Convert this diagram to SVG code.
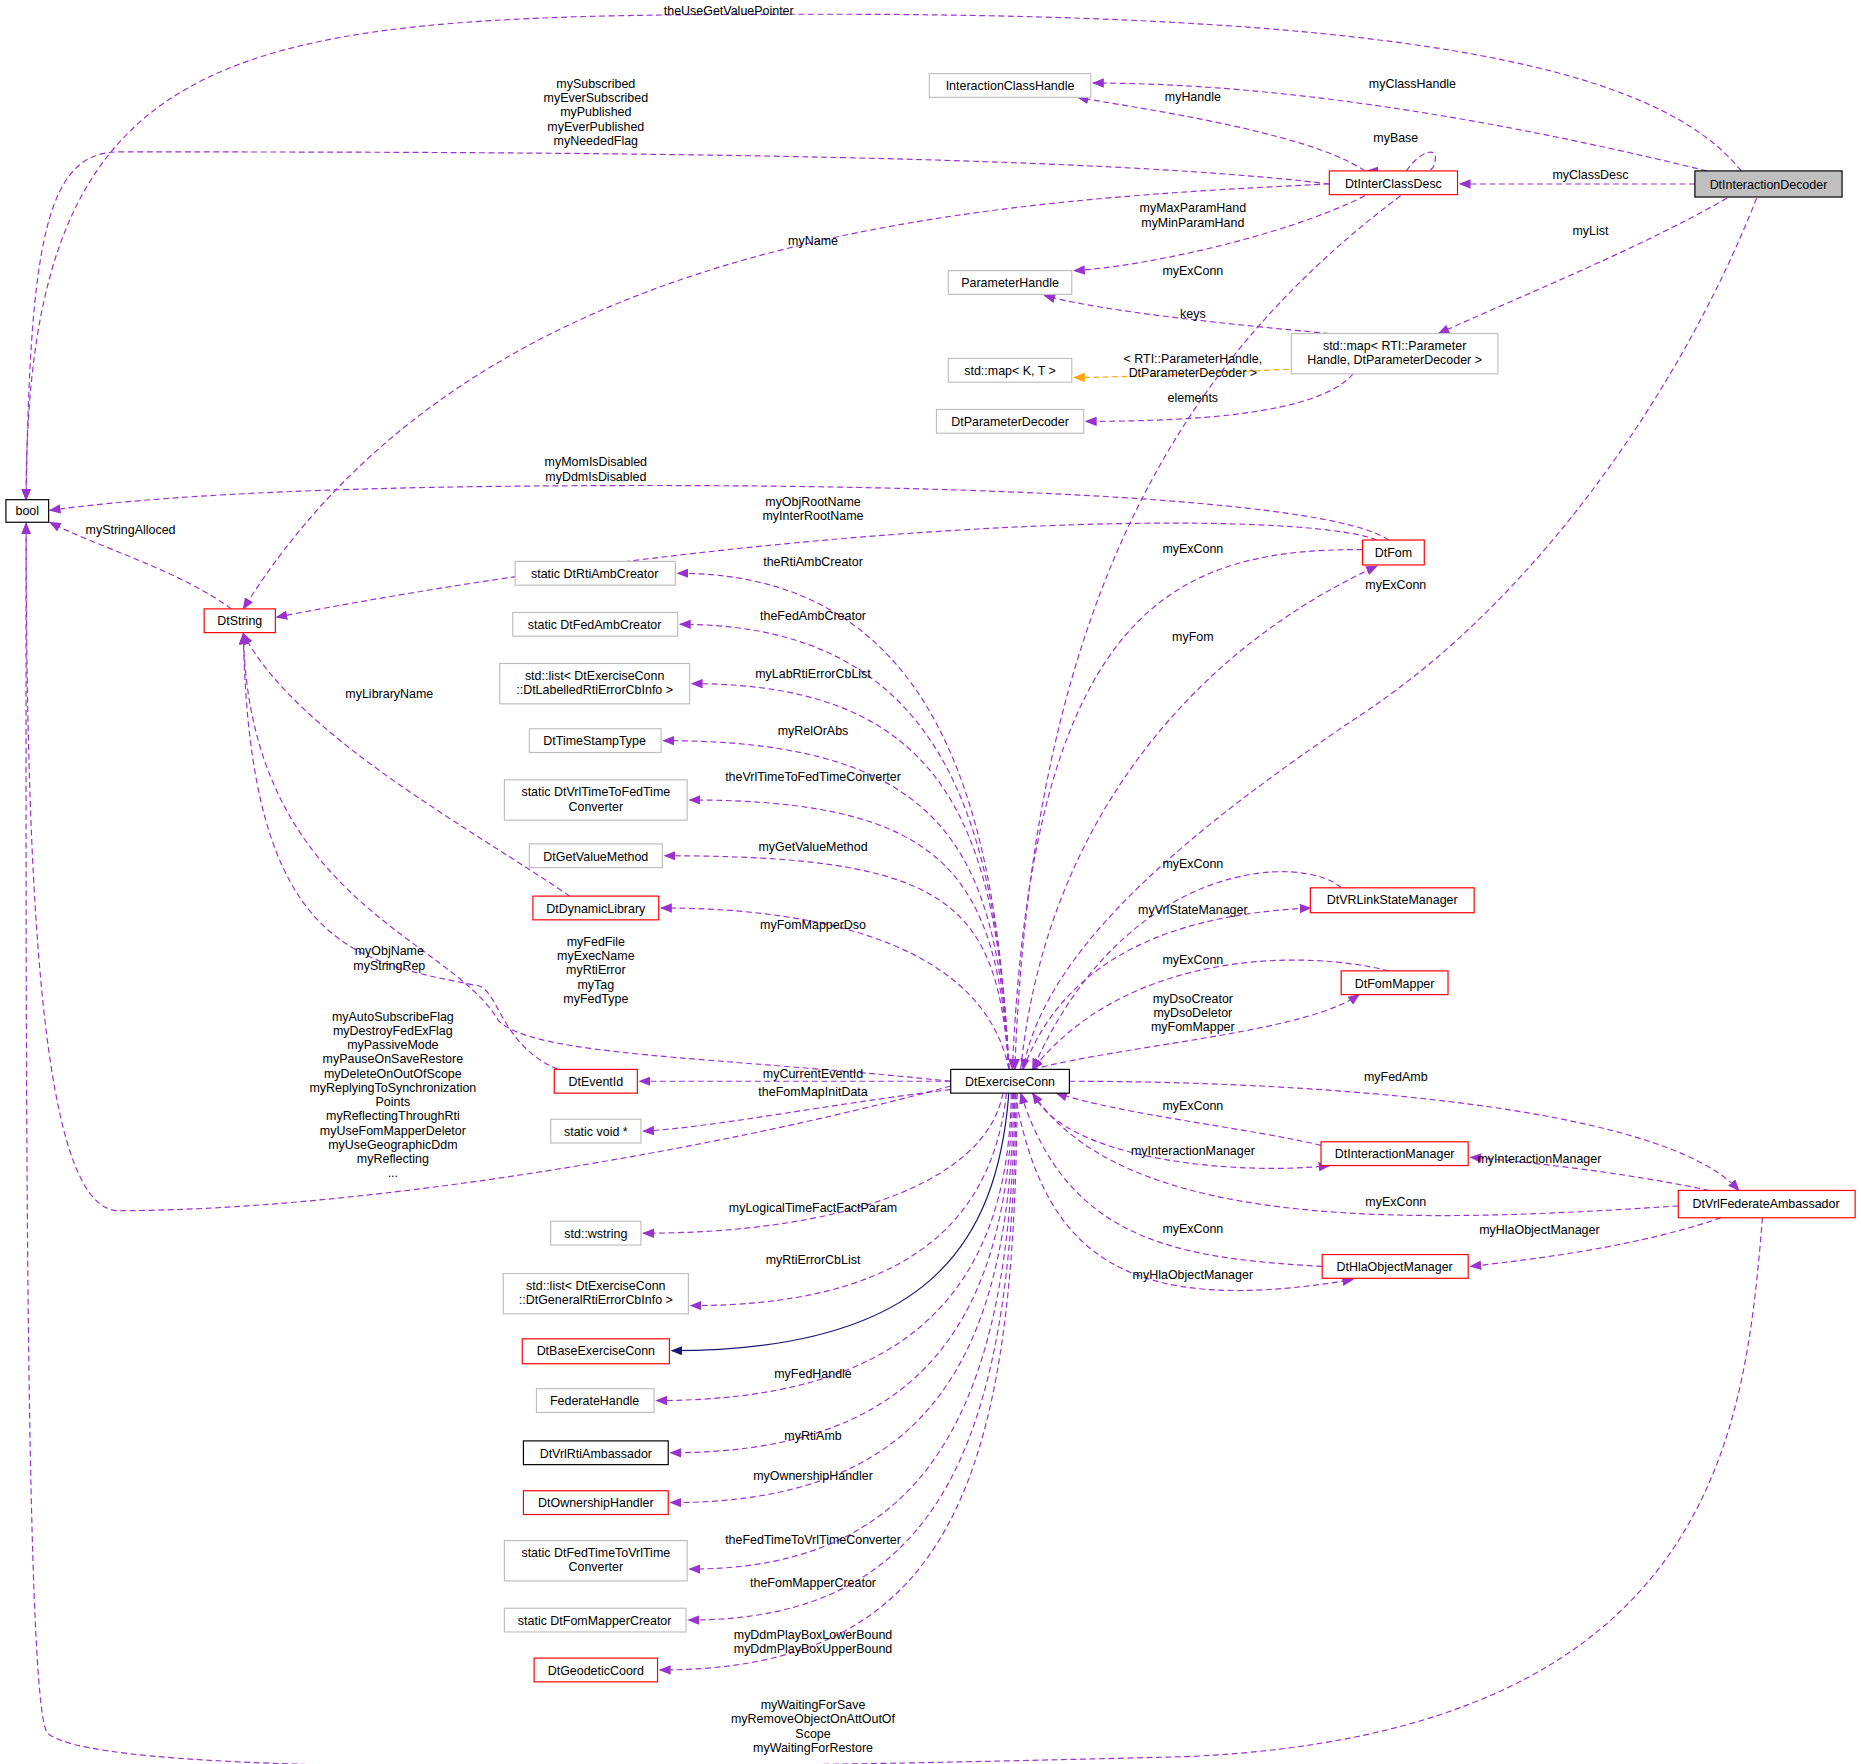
<svg xmlns="http://www.w3.org/2000/svg" width="1861" height="1764" viewBox="0 0 1861 1764">
<style>
text{font-family:"Liberation Sans",Arial,sans-serif;font-size:10.5px;fill:#000}
.n text{text-anchor:middle}
.l{text-anchor:middle}
.g{fill:#fff;stroke:#bfbfbf;stroke-width:1}
.r{fill:#fff;stroke:#ff0000;stroke-width:1}
.b{fill:#fff;stroke:#000;stroke-width:1}
.e path{fill:none;stroke:#9a32cd;stroke-width:1;stroke-dasharray:5,3;marker-end:url(#a)}
.e path.o{stroke:#ffa500;marker-end:url(#ao)}
.e path.i{stroke:#191970;stroke-dasharray:none;marker-end:url(#ai)}
</style>
<defs>
<marker id="a" markerWidth="10" markerHeight="8" refX="9" refY="4" orient="auto" markerUnits="userSpaceOnUse"><path d="M0,0 L10,4 L0,8 Z" fill="#9a32cd"/></marker>
<marker id="ao" markerWidth="10" markerHeight="8" refX="9" refY="4" orient="auto" markerUnits="userSpaceOnUse"><path d="M0,0 L10,4 L0,8 Z" fill="#ffa500"/></marker>
<marker id="ai" markerWidth="10" markerHeight="8" refX="9" refY="4" orient="auto" markerUnits="userSpaceOnUse"><path d="M0,0 L10,4 L0,8 Z" fill="#191970"/></marker>
</defs>
<rect width="1861" height="1764" fill="#fff"/>
<g transform="scale(1.1869)">
<g class="e" id="edges">
<path d="M1467,144 C1400,60 1200,12 700,12 C200,12 22,20 22,421"/>
<path d="M1438,144 C1300,110 1100,70 921,70"/>
<path d="M1428,155 L1230,155"/>
<path d="M1455,167 C1380,210 1280,250 1212,281"/>
<path d="M1480,167 C1420,320 1300,500 1150,600 C1000,700 880,800 862,901"/>
<path d="M1120,155 C900,128 400,128 100,128 C40,128 25,200 22,421"/>
<path d="M1120,155 C800,170 400,200 205,513"/>
<path d="M1150,144 C1100,110 950,90 908,82"/>
<path d="M1185,144 C1195,128 1215,120 1208,140 C1205,146 1195,146 1152,144"/>
<path d="M1150,165 C1080,200 960,225 905,228"/>
<path d="M1180,165 C1000,300 870,500 855,901"/>
<path d="M1120,281 C1000,270 920,260 880,249"/>
<path class="o" d="M1110,310 C1000,315 950,318 905,318"/>
<path d="M1140,315 C1110,350 1000,355 915,355"/>
<path d="M1170,455 C1120,420 800,405 400,410 C200,413 100,422 42,430"/>
<path d="M1160,455 C1100,430 700,430 233,520"/>
<path d="M1148,463 C1000,463 870,500 853,901"/>
<path d="M860,901 C880,700 1000,550 1160,477"/>
<path d="M195,513 C150,480 80,460 42,440"/>
<path d="M480,755 C400,700 250,620 205,534"/>
<path d="M470,901 C420,880 420,830 400,830 C300,810 210,800 205,534"/>
<path d="M801,911 C600,890 450,890 420,860 C380,790 210,760 205,534"/>
<path d="M801,915 C600,970 300,1020 100,1020 C40,1020 22,800 22,441"/>
<path d="M850,901 C840,700 800,483 571,483"/>
<path d="M850,901 C840,700 800,526 573,526"/>
<path d="M850,901 C840,700 800,576 583,576"/>
<path d="M850,901 C840,720 800,624 559,624"/>
<path d="M850,901 C840,740 800,674 581,674"/>
<path d="M850,901 C840,760 800,721 560,721"/>
<path d="M850,901 C830,800 700,765 557,765"/>
<path d="M801,911 L539,911"/>
<path d="M801,918 C700,930 600,950 542,953"/>
<path d="M845,921 C830,1000 700,1039 542,1039"/>
<path d="M848,921 C835,1040 750,1100 582,1100"/>
<path class="i" d="M850,921 C840,1050 780,1138 566,1138"/>
<path d="M852,921 C850,1100 750,1180 553,1180"/>
<path d="M853,921 C850,1130 760,1224 565,1224"/>
<path d="M854,921 C852,1160 770,1266 565,1266"/>
<path d="M855,921 C853,1190 780,1322 581,1322"/>
<path d="M856,921 C854,1220 790,1365 580,1365"/>
<path d="M857,921 C855,1250 800,1407 556,1407"/>
<path d="M1130,748 C1100,720 950,720 870,901"/>
<path d="M862,901 C900,800 1000,770 1104,765"/>
<path d="M1170,818 C1100,800 950,800 870,901"/>
<path d="M870,901 C950,880 1100,870 1145,838"/>
<path d="M901,911 C1100,911 1400,930 1465,1003"/>
<path d="M1113,965 C1050,950 950,940 890,921"/>
<path d="M870,921 C900,980 1050,990 1120,982"/>
<path d="M1414,1016 C1200,1030 950,1040 870,921"/>
<path d="M1440,1003 C1380,990 1300,980 1239,975"/>
<path d="M1114,1067 C1000,1060 900,1050 860,921"/>
<path d="M855,921 C880,1060 950,1110 1140,1078"/>
<path d="M1450,1026 C1380,1050 1300,1060 1239,1067"/>
<path d="M1485,1026 C1470,1200 1450,1460 1000,1480 C600,1490 80,1500 40,1460 C20,1440 22,800 22,441"/>
</g>
<g id="labels">
<text class="l" x="614" y="13">theUseGetValuePointer</text>
<text class="l" x="1190" y="74">myClassHandle</text>
<text class="l" x="1340" y="151">myClassDesc</text>
<text class="l" x="1340" y="198">myList</text>
<text class="l" x="1176" y="496">myExConn</text>
<text class="l" x="502" y="74">mySubscribed</text>
<text class="l" x="502" y="86">myEverSubscribed</text>
<text class="l" x="502" y="98">myPublished</text>
<text class="l" x="502" y="110">myEverPublished</text>
<text class="l" x="502" y="122">myNeededFlag</text>
<text class="l" x="685" y="206">myName</text>
<text class="l" x="1005" y="85">myHandle</text>
<text class="l" x="1176" y="120">myBase</text>
<text class="l" x="1005" y="179">myMaxParamHand</text>
<text class="l" x="1005" y="191">myMinParamHand</text>
<text class="l" x="1005" y="232">myExConn</text>
<text class="l" x="1005" y="268">keys</text>
<text class="l" x="1005" y="306">&lt; RTI::ParameterHandle,</text>
<text class="l" x="1005" y="318">DtParameterDecoder &gt;</text>
<text class="l" x="1005" y="339">elements</text>
<text class="l" x="502" y="393">myMomIsDisabled</text>
<text class="l" x="502" y="405">myDdmIsDisabled</text>
<text class="l" x="685" y="426">myObjRootName</text>
<text class="l" x="685" y="438">myInterRootName</text>
<text class="l" x="1005" y="466">myExConn</text>
<text class="l" x="1005" y="540">myFom</text>
<text class="l" x="110" y="450">myStringAlloced</text>
<text class="l" x="328" y="588">myLibraryName</text>
<text class="l" x="328" y="805">myObjName</text>
<text class="l" x="328" y="817">myStringRep</text>
<text class="l" x="502" y="797">myFedFile</text>
<text class="l" x="502" y="809">myExecName</text>
<text class="l" x="502" y="821">myRtiError</text>
<text class="l" x="502" y="833">myTag</text>
<text class="l" x="502" y="845">myFedType</text>
<text class="l" x="331" y="860">myAutoSubscribeFlag</text>
<text class="l" x="331" y="872">myDestroyFedExFlag</text>
<text class="l" x="331" y="884">myPassiveMode</text>
<text class="l" x="331" y="896">myPauseOnSaveRestore</text>
<text class="l" x="331" y="908">myDeleteOnOutOfScope</text>
<text class="l" x="331" y="920">myReplyingToSynchronization</text>
<text class="l" x="331" y="932">Points</text>
<text class="l" x="331" y="944">myReflectingThroughRti</text>
<text class="l" x="331" y="956">myUseFomMapperDeletor</text>
<text class="l" x="331" y="968">myUseGeographicDdm</text>
<text class="l" x="331" y="980">myReflecting</text>
<text class="l" x="331" y="992">...</text>
<text class="l" x="685" y="477">theRtiAmbCreator</text>
<text class="l" x="685" y="522">theFedAmbCreator</text>
<text class="l" x="685" y="571">myLabRtiErrorCbList</text>
<text class="l" x="685" y="619">myRelOrAbs</text>
<text class="l" x="685" y="658">theVrlTimeToFedTimeConverter</text>
<text class="l" x="685" y="717">myGetValueMethod</text>
<text class="l" x="685" y="783">myFomMapperDso</text>
<text class="l" x="685" y="908">myCurrentEventId</text>
<text class="l" x="685" y="923">theFomMapInitData</text>
<text class="l" x="685" y="1021">myLogicalTimeFactFactParam</text>
<text class="l" x="685" y="1065">myRtiErrorCbList</text>
<text class="l" x="685" y="1161">myFedHandle</text>
<text class="l" x="685" y="1213">myRtiAmb</text>
<text class="l" x="685" y="1247">myOwnershipHandler</text>
<text class="l" x="685" y="1301">theFedTimeToVrlTimeConverter</text>
<text class="l" x="685" y="1337">theFomMapperCreator</text>
<text class="l" x="685" y="1381">myDdmPlayBoxLowerBound</text>
<text class="l" x="685" y="1393">myDdmPlayBoxUpperBound</text>
<text class="l" x="1005" y="731">myExConn</text>
<text class="l" x="1005" y="770">myVrlStateManager</text>
<text class="l" x="1005" y="812">myExConn</text>
<text class="l" x="1005" y="845">myDsoCreator</text>
<text class="l" x="1005" y="857">myDsoDeletor</text>
<text class="l" x="1005" y="869">myFomMapper</text>
<text class="l" x="1176" y="911">myFedAmb</text>
<text class="l" x="1005" y="935">myExConn</text>
<text class="l" x="1005" y="973">myInteractionManager</text>
<text class="l" x="1176" y="1016">myExConn</text>
<text class="l" x="1297" y="980">myInteractionManager</text>
<text class="l" x="1005" y="1039">myExConn</text>
<text class="l" x="1005" y="1078">myHlaObjectManager</text>
<text class="l" x="1297" y="1040">myHlaObjectManager</text>
<text class="l" x="685" y="1440">myWaitingForSave</text>
<text class="l" x="685" y="1452">myRemoveObjectOnAttOutOf</text>
<text class="l" x="685" y="1464">Scope</text>
<text class="l" x="685" y="1476">myWaitingForRestore</text>
</g>
<g class="n">
<g id="n_bool"><rect class="b" x="5" y="421" width="36" height="19"/><text x="23" y="434">bool</text></g>
<g id="n_DtString"><rect class="r" x="172" y="513" width="60" height="20"/><text x="202" y="527">DtString</text></g>
<g id="n_ICH"><rect class="g" x="783" y="62" width="136" height="20"/><text x="851" y="76">InteractionClassHandle</text></g>
<g id="n_DtInterClassDesc"><rect class="r" x="1120" y="144" width="108" height="20"/><text x="1174" y="158">DtInterClassDesc</text></g>
<g id="n_DtInteractionDecoder"><rect x="1428" y="144" width="124" height="22" fill="#bfbfbf" stroke="#000"/><text x="1490" y="159">DtInteractionDecoder</text></g>
<g id="n_ParameterHandle"><rect class="g" x="799" y="228" width="104" height="20"/><text x="851" y="242">ParameterHandle</text></g>
<g id="n_mapKT"><rect class="g" x="799" y="302" width="104" height="20"/><text x="851" y="316">std::map&lt; K, T &gt;</text></g>
<g id="n_mapRTI"><rect class="g" x="1088" y="281" width="174" height="34"/><text x="1175" y="295">std::map&lt; RTI::Parameter</text><text x="1175" y="307">Handle, DtParameterDecoder &gt;</text></g>
<g id="n_DtParameterDecoder"><rect class="g" x="789" y="345" width="124" height="20"/><text x="851" y="359">DtParameterDecoder</text></g>
<g id="n_DtFom"><rect class="r" x="1148" y="455" width="52" height="21"/><text x="1174" y="469">DtFom</text></g>
<g id="n_RtiAmbCreator"><rect class="g" x="434" y="473" width="135" height="20"/><text x="501" y="487">static DtRtiAmbCreator</text></g>
<g id="n_FedAmbCreator"><rect class="g" x="432" y="516" width="139" height="20"/><text x="501" y="530">static DtFedAmbCreator</text></g>
<g id="n_listLab"><rect class="g" x="421" y="559" width="160" height="34"/><text x="501" y="573">std::list&lt; DtExerciseConn</text><text x="501" y="585">::DtLabelledRtiErrorCbInfo &gt;</text></g>
<g id="n_DtTimeStampType"><rect class="g" x="446" y="614" width="111" height="20"/><text x="501" y="628">DtTimeStampType</text></g>
<g id="n_VrlToFed"><rect class="g" x="425" y="657" width="154" height="34"/><text x="502" y="671">static DtVrlTimeToFedTime</text><text x="502" y="683">Converter</text></g>
<g id="n_DtGetValueMethod"><rect class="g" x="446" y="711" width="112" height="20"/><text x="502" y="725">DtGetValueMethod</text></g>
<g id="n_DtDynamicLibrary"><rect class="r" x="449" y="755" width="106" height="20"/><text x="502" y="769">DtDynamicLibrary</text></g>
<g id="n_DtVRLinkStateManager"><rect class="r" x="1104" y="748" width="138" height="21"/><text x="1173" y="762">DtVRLinkStateManager</text></g>
<g id="n_DtFomMapper"><rect class="r" x="1130" y="818" width="90" height="20"/><text x="1175" y="832">DtFomMapper</text></g>
<g id="n_DtExerciseConn"><rect class="b" x="801" y="901" width="100" height="20"/><text x="851" y="915">DtExerciseConn</text></g>
<g id="n_DtEventId"><rect class="r" x="467" y="901" width="70" height="20"/><text x="502" y="915">DtEventId</text></g>
<g id="n_voidp"><rect class="g" x="464" y="943" width="76" height="20"/><text x="502" y="957">static void *</text></g>
<g id="n_wstring"><rect class="g" x="464" y="1029" width="76" height="20"/><text x="502" y="1043">std::wstring</text></g>
<g id="n_listGen"><rect class="g" x="424" y="1073" width="156" height="34"/><text x="502" y="1087">std::list&lt; DtExerciseConn</text><text x="502" y="1099">::DtGeneralRtiErrorCbInfo &gt;</text></g>
<g id="n_DtBaseExerciseConn"><rect class="r" x="440" y="1128" width="124" height="21"/><text x="502" y="1142">DtBaseExerciseConn</text></g>
<g id="n_FederateHandle"><rect class="g" x="452" y="1170" width="99" height="20"/><text x="501" y="1184">FederateHandle</text></g>
<g id="n_DtVrlRtiAmbassador"><rect class="b" x="441" y="1214" width="122" height="20"/><text x="502" y="1228">DtVrlRtiAmbassador</text></g>
<g id="n_DtOwnershipHandler"><rect class="r" x="441" y="1256" width="122" height="20"/><text x="502" y="1270">DtOwnershipHandler</text></g>
<g id="n_FedToVrl"><rect class="g" x="425" y="1298" width="154" height="34"/><text x="502" y="1312">static DtFedTimeToVrlTime</text><text x="502" y="1324">Converter</text></g>
<g id="n_FomMapperCreator"><rect class="g" x="425" y="1355" width="153" height="20"/><text x="501" y="1369">static DtFomMapperCreator</text></g>
<g id="n_DtGeodeticCoord"><rect class="r" x="450" y="1397" width="104" height="20"/><text x="502" y="1411">DtGeodeticCoord</text></g>
<g id="n_DtInteractionManager"><rect class="r" x="1113" y="962" width="124" height="20"/><text x="1175" y="976">DtInteractionManager</text></g>
<g id="n_DtHlaObjectManager"><rect class="r" x="1114" y="1057" width="123" height="20"/><text x="1175" y="1071">DtHlaObjectManager</text></g>
<g id="n_DtVrlFederateAmbassador"><rect class="r" x="1414" y="1003" width="149" height="23"/><text x="1488" y="1018">DtVrlFederateAmbassador</text></g>
</g>
</g>
</svg>
